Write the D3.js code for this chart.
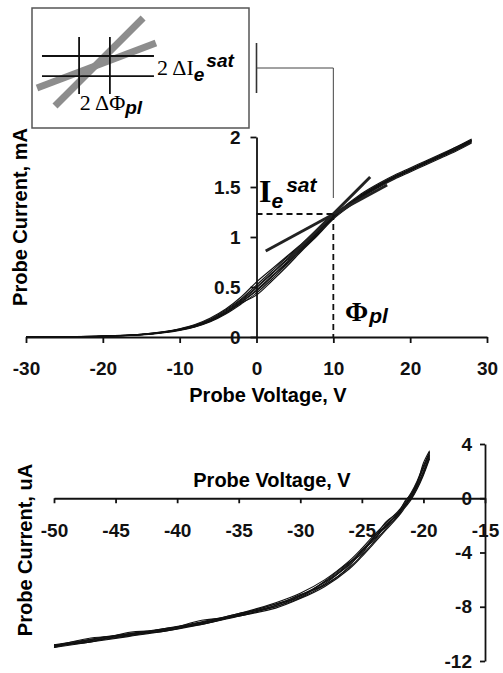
<!DOCTYPE html>
<html>
<head>
<meta charset="utf-8">
<script src="https://cdn.jsdelivr.net/npm/d3@7"></script>
<style>
  body { margin: 0; background: #fff; }
  text { font-family: "Liberation Sans", Arial, sans-serif; }
</style>
</head>
<body>
<script>
// top panel: probe voltage (V) vs current (mA), several sweeps
const topVolts = [-30,-25,-20,-15,-12,-10,-8,-6,-4,-2,0,2,4,6,8,10,12,14,16,18,20,22,24,26,28];
const topSweep1 = [0,0.002,0.008,0.024,0.048,0.072,0.108,0.165,0.245,0.35,0.47,0.61,0.75,0.9,1.05,1.2,1.32,1.43,1.52,1.6,1.67,1.74,1.81,1.88,1.96];
const topSweep2 = [0,0.003,0.01,0.028,0.052,0.08,0.12,0.18,0.27,0.38,0.52,0.66,0.8,0.93,1.07,1.21,1.33,1.44,1.53,1.61,1.68,1.75,1.82,1.9,1.98];
const topSweep3 = [0,0.002,0.006,0.02,0.043,0.066,0.1,0.152,0.23,0.33,0.44,0.58,0.73,0.88,1.03,1.19,1.31,1.42,1.51,1.59,1.66,1.73,1.8,1.87,1.95];
const topSweep4 = [0,0.004,0.009,0.026,0.05,0.076,0.114,0.172,0.26,0.37,0.5,0.64,0.78,0.91,1.06,1.22,1.34,1.45,1.54,1.62,1.69,1.76,1.83,1.9,1.97];
const topSweep5 = [0,0.001,0.007,0.022,0.045,0.07,0.104,0.158,0.238,0.34,0.42,0.56,0.71,0.87,1.02,1.18,1.3,1.41,1.5,1.58,1.65,1.72,1.79,1.86,1.94];
const topSweep6 = [0,0.003,0.009,0.027,0.054,0.082,0.124,0.19,0.28,0.4,0.55,0.68,0.81,0.94,1.08,1.2,1.32,1.42,1.51,1.6,1.67,1.75,1.82,1.89,1.97];
const topSweep7 = [0,0.002,0.008,0.025,0.049,0.074,0.11,0.168,0.25,0.36,0.49,0.63,0.77,0.905,1.055,1.205,1.325,1.435,1.525,1.605,1.675,1.745,1.815,1.885,1.965];
const topSweep8 = [0,0.003,0.009,0.023,0.047,0.071,0.106,0.162,0.242,0.345,0.46,0.6,0.74,0.89,1.04,1.2,1.315,1.425,1.515,1.595,1.665,1.735,1.805,1.875,1.955];
const topXTicks = [-30,-20,-10,0,10,20,30];
const topYTicks = [0,0.5,1,1.5,2];

// plasma potential and electron saturation current
const phiPl = 10;
const iSat = 1.23;
// tangent fits [V, I]
const fitSteep = [[4, 0.77], [14.8, 1.6]];
const fitShallow = [[1.2, 0.86], [17, 1.52]];
// bracket linking to inset [V, I]
const bracketBar = [[0, 2.94], [0, 2.44]];
const bracketLead = [[0, 2.69], [10, 2.69], [10, 1.39]];

// bottom panel: probe voltage (V) vs current (uA)
const botVolts = [-50,-47,-44,-41,-38,-35,-32,-30,-28,-26,-25,-24,-23,-22,-21.5,-21,-20.5,-20,-19.5];
const botSweep1 = [-10.9,-10.5,-10.1,-9.7,-9.2,-8.6,-7.9,-7.2,-6.2,-4.9,-4.0,-3.0,-2.0,-1.1,-0.5,0.1,1.0,2.0,3.2];
const botSweep2 = [-10.8,-10.4,-10.0,-9.6,-9.1,-8.5,-7.7,-7.0,-6.0,-4.6,-3.7,-2.7,-1.8,-0.9,-0.3,0.4,1.3,2.4,3.4];
const botSweep3 = [-11.0,-10.6,-10.2,-9.8,-9.3,-8.7,-8.1,-7.4,-6.5,-5.2,-4.3,-3.3,-2.3,-1.3,-0.7,-0.1,0.7,1.7,2.9];
const botSweep4 = [-10.9,-10.3,-10.1,-9.6,-9.3,-8.6,-7.8,-7.3,-6.1,-4.7,-4.1,-2.8,-2.1,-1.0,-0.6,0.2,1.1,2.6,3.5];
const botSweep5 = [-10.8,-10.6,-9.9,-9.7,-9.0,-8.7,-7.9,-7.1,-6.4,-5.0,-3.8,-3.1,-1.9,-1.2,-0.4,0.0,0.9,1.9,3.0];
const botSweep6 = [-11.0,-10.4,-10.0,-9.8,-9.2,-8.5,-8.0,-7.2,-6.3,-4.8,-3.9,-2.9,-1.7,-1.0,-0.2,0.3,1.2,2.2,3.3];
const botSweep7 = [-10.85,-10.45,-10.05,-9.65,-9.15,-8.55,-7.8,-7.15,-6.15,-4.75,-3.85,-2.85,-1.95,-1.05,-0.45,0.25,1.15,2.3,3.4];
const botSweep8 = [-10.95,-10.55,-10.15,-9.75,-9.25,-8.65,-8.0,-7.35,-6.4,-5.1,-4.2,-3.2,-2.2,-1.2,-0.6,0.0,0.8,1.8,3.1];
const botXTicks = [-50,-45,-40,-35,-30,-25,-20,-15];
const botYTicks = [4,0,-4,-8,-12];

// inset schematic, local 0..10 units
const insetHLines = [6.0, 4.33];
const insetVLines = [2.17, 3.59];
const insetHSpan = [0.46, 5.62];
const insetVSpan = [2.83, 7.58];
const insetGraySteep = [[1.06, 1.83], [5.12, 9.17]];
const insetGrayShallow = [[0.23, 3.33], [5.71, 7.08]];

const width = 503, height = 673;
const svg = d3.select("body").append("svg")
    .attr("width", width)
    .attr("height", height);

const bold = "bold";
const fmt = d => String(d);

// ---------- top panel ----------
const x1 = d3.scaleLinear().domain([-30, 30]).range([26, 487]);
const y1 = d3.scaleLinear().domain([0, 2]).range([337, 137]);

const topSweeps = [topSweep1, topSweep2, topSweep3, topSweep4, topSweep5, topSweep6, topSweep7, topSweep8];
const line1 = d3.line()
    .x(d => x1(d[0]))
    .y(d => y1(d[1]))
    .curve(d3.curveCatmullRom);

svg.append("g")
    .selectAll("path")
    .data(topSweeps)
    .enter().append("path")
    .attr("d", s => line1(topVolts.map((v, i) => [v, s[i]])))
    .attr("fill", "none")
    .attr("stroke", "#111")
    .attr("stroke-width", 1.1);

// tangent fits
const straight1 = d3.line().x(d => x1(d[0])).y(d => y1(d[1]));
svg.append("g")
    .selectAll("path")
    .data([fitSteep, fitShallow])
    .enter().append("path")
    .attr("d", straight1)
    .attr("stroke", "#222")
    .attr("stroke-width", 3)
    .attr("fill", "none");

// dashed markers
svg.append("path")
    .attr("d", straight1([[0, iSat], [phiPl, iSat]]))
    .attr("stroke", "#111").attr("stroke-width", 1.8)
    .attr("stroke-dasharray", "6,4").attr("fill", "none");
svg.append("path")
    .attr("d", straight1([[phiPl, iSat], [phiPl, 0]]))
    .attr("stroke", "#111").attr("stroke-width", 1.8)
    .attr("stroke-dasharray", "6,4").attr("fill", "none");

// bracket to inset
svg.append("path")
    .attr("d", straight1(bracketBar))
    .attr("stroke", "#333").attr("stroke-width", 1.6).attr("fill", "none");
svg.append("path")
    .attr("d", straight1(bracketLead))
    .attr("stroke", "#444").attr("stroke-width", 1).attr("fill", "none");

// axes
const xAxis1 = svg.append("g")
    .attr("transform", `translate(0,${y1(0)})`)
    .call(d3.axisBottom(x1).tickValues(topXTicks).tickFormat(fmt).tickSize(6).tickSizeOuter(0).tickPadding(19));
const yAxis1 = svg.append("g")
    .attr("transform", `translate(${x1(0)},0)`)
    .call(d3.axisLeft(y1).tickValues(topYTicks).tickFormat(fmt).tickSize(6).tickSizeOuter(0).tickPadding(10));

[xAxis1, yAxis1].forEach(a => {
    a.selectAll("path, line").attr("stroke", "#111").attr("stroke-width", 1.8);
    a.selectAll("text")
        .attr("font-family", "Liberation Sans, Arial, sans-serif")
        .attr("font-size", 19).attr("font-weight", bold).attr("fill", "#111");
});

svg.append("text")
    .attr("x", 268).attr("y", 395)
    .attr("text-anchor", "middle").attr("dominant-baseline", "central")
    .attr("font-size", 20).attr("font-weight", bold)
    .text("Probe Voltage, V");
svg.append("text")
    .attr("transform", "translate(20,217) rotate(-90)")
    .attr("text-anchor", "middle").attr("dominant-baseline", "central")
    .attr("font-size", 20).attr("font-weight", bold)
    .text("Probe Current, mA");

// I_e^sat label
const iLabel = svg.append("text")
    .attr("x", 259).attr("y", 202)
    .attr("font-weight", bold);
iLabel.append("tspan")
    .attr("font-family", "Liberation Serif, Times New Roman, serif")
    .attr("font-size", 32).text("I");
iLabel.append("tspan")
    .attr("font-size", 21).attr("font-style", "italic").attr("dy", 6).text("e");
iLabel.append("tspan")
    .attr("font-size", 21).attr("font-style", "italic").attr("dy", -16).attr("dx", 3).text("sat");

// Phi_pl label
const phiLabel = svg.append("text")
    .attr("x", 345).attr("y", 321)
    .attr("font-weight", bold);
phiLabel.append("tspan")
    .attr("font-family", "Liberation Serif, Times New Roman, serif")
    .attr("font-size", 28).text("Φ");
phiLabel.append("tspan")
    .attr("font-size", 21).attr("font-style", "italic").attr("dx", 1).attr("dy", 2).text("pl");

// ---------- inset ----------
const ix = d3.scaleLinear().domain([0, 10]).range([32, 249]);
const iy = d3.scaleLinear().domain([0, 10]).range([128, 8]);
const inset = svg.append("g");
inset.append("rect")
    .attr("x", ix(0)).attr("y", iy(10))
    .attr("width", ix(10) - ix(0)).attr("height", iy(0) - iy(10))
    .attr("fill", "#fff").attr("stroke", "#555").attr("stroke-width", 1.5);
const lineI = d3.line().x(d => ix(d[0])).y(d => iy(d[1]));
inset.selectAll(".gray")
    .data([insetGraySteep, insetGrayShallow])
    .enter().append("path")
    .attr("d", lineI)
    .attr("stroke", "#8d8d8d").attr("stroke-width", 7).attr("fill", "none");
inset.selectAll(".hl")
    .data(insetHLines)
    .enter().append("line")
    .attr("x1", ix(insetHSpan[0])).attr("x2", ix(insetHSpan[1]))
    .attr("y1", d => iy(d)).attr("y2", d => iy(d))
    .attr("stroke", "#111").attr("stroke-width", 1.8);
inset.selectAll(".vl")
    .data(insetVLines)
    .enter().append("line")
    .attr("x1", d => ix(d)).attr("x2", d => ix(d))
    .attr("y1", iy(insetVSpan[0])).attr("y2", iy(insetVSpan[1]))
    .attr("stroke", "#111").attr("stroke-width", 1.8);

const dI = inset.append("text").attr("x", ix(5.76)).attr("y", iy(4.4));
dI.append("tspan")
    .attr("font-family", "Liberation Serif, Times New Roman, serif")
    .attr("font-size", 22).text("2 ΔI");
dI.append("tspan")
    .attr("font-size", 19).attr("font-weight", bold).attr("font-style", "italic")
    .attr("dy", 6).text("e");
dI.append("tspan")
    .attr("font-size", 19).attr("font-weight", bold).attr("font-style", "italic")
    .attr("dy", -14).attr("dx", 2).text("sat");

const dPhi = inset.append("text").attr("x", ix(2.2)).attr("y", iy(1.5));
dPhi.append("tspan")
    .attr("font-family", "Liberation Serif, Times New Roman, serif")
    .attr("font-size", 22).text("2 ΔΦ");
dPhi.append("tspan")
    .attr("font-size", 19).attr("font-weight", bold).attr("font-style", "italic")
    .attr("dy", 4).text("pl");

// ---------- bottom panel ----------
const x2 = d3.scaleLinear().domain([-50, -15]).range([54, 485]);
const y2 = d3.scaleLinear().domain([-12, 4]).range([661, 444]);

const botSweeps = [botSweep1, botSweep2, botSweep3, botSweep4, botSweep5, botSweep6, botSweep7, botSweep8];
const line2 = d3.line()
    .x(d => x2(d[0]))
    .y(d => y2(d[1]))
    .curve(d3.curveCatmullRom);

svg.append("g")
    .selectAll("path")
    .data(botSweeps)
    .enter().append("path")
    .attr("d", s => line2(botVolts.map((v, i) => [v, s[i]])))
    .attr("fill", "none")
    .attr("stroke", "#111")
    .attr("stroke-width", 1.1);

const xAxis2 = svg.append("g")
    .attr("transform", `translate(0,${y2(0)})`)
    .call(d3.axisBottom(x2).tickValues(botXTicks).tickFormat(fmt).tickSize(5).tickSizeOuter(0).tickPadding(20));
const yAxis2 = svg.append("g")
    .attr("transform", `translate(${x2(-15)},0)`)
    .call(d3.axisLeft(y2).tickValues(botYTicks).tickFormat(fmt).tickSize(5).tickSizeOuter(0).tickPadding(8));

[xAxis2, yAxis2].forEach(a => {
    a.selectAll("path, line").attr("stroke", "#111").attr("stroke-width", 1.8);
    a.selectAll("text")
        .attr("font-family", "Liberation Sans, Arial, sans-serif")
        .attr("font-size", 19).attr("font-weight", bold).attr("fill", "#111");
});

svg.append("text")
    .attr("x", 272).attr("y", 480)
    .attr("text-anchor", "middle").attr("dominant-baseline", "central")
    .attr("font-size", 20).attr("font-weight", bold)
    .text("Probe Voltage, V");
svg.append("text")
    .attr("transform", "translate(25,550) rotate(-90)")
    .attr("text-anchor", "middle").attr("dominant-baseline", "central")
    .attr("font-size", 20).attr("font-weight", bold)
    .text("Probe Current, uA");
</script>
</body>
</html>
